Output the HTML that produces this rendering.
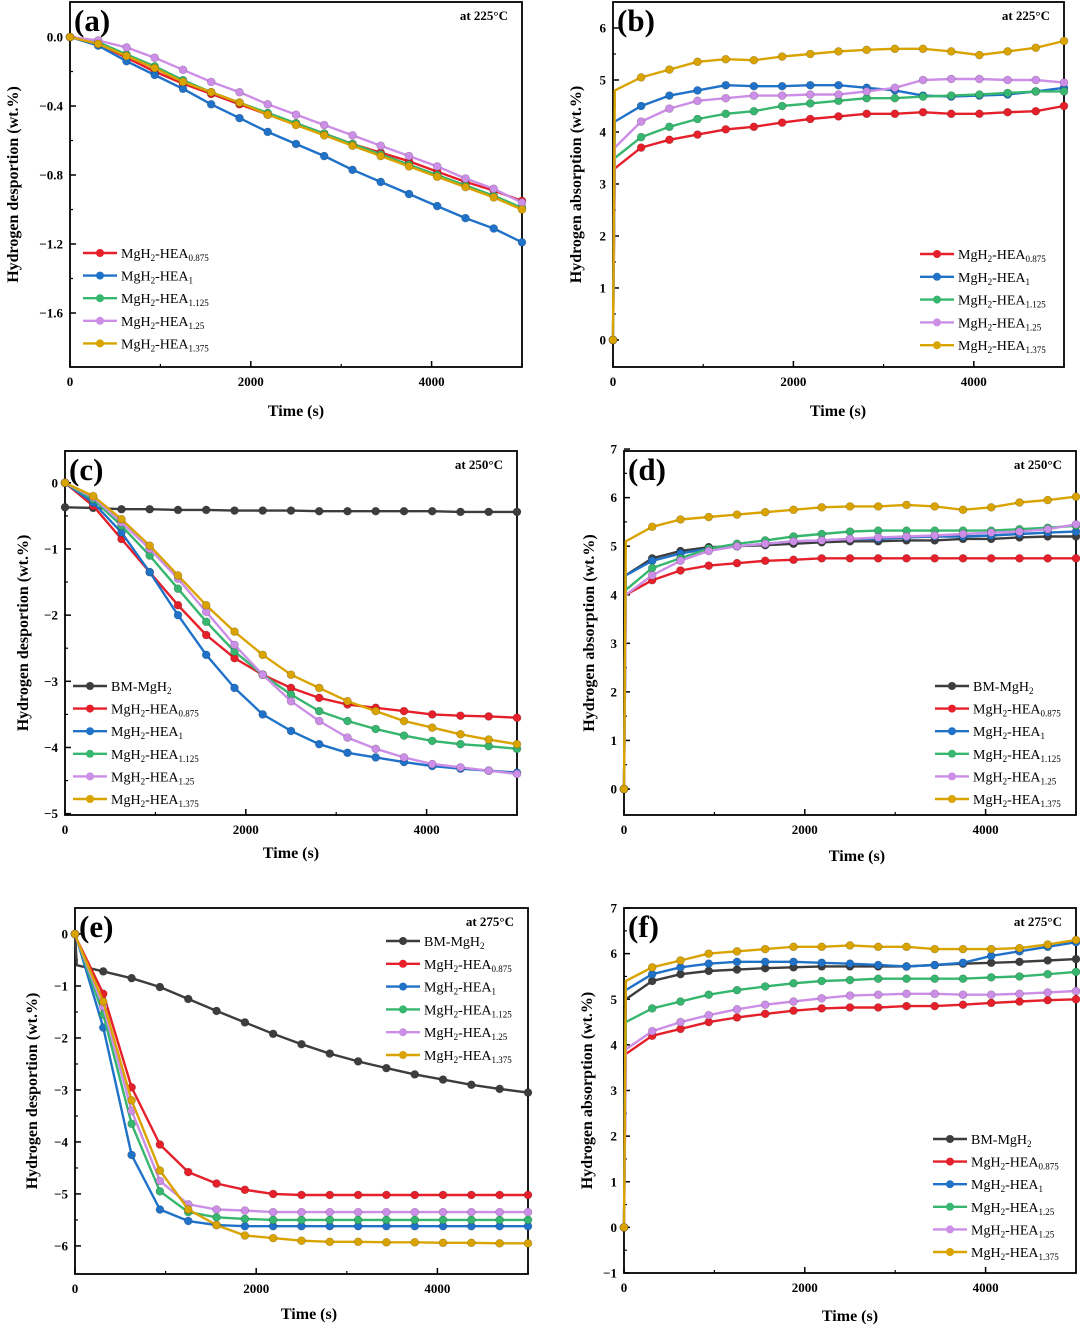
<!DOCTYPE html>
<html><head><meta charset="utf-8">
<style>
html,body{margin:0;padding:0;background:#fff;}
svg{display:block;font-family:"Liberation Serif",serif;}
</style></head>
<body>
<svg id="fig" width="1080" height="1326" viewBox="0 0 1080 1326" xmlns="http://www.w3.org/2000/svg"></svg>
<script>
// ---- data ----
const tA = [0,312,625,937,1250,1562,1875,2187,2500,2812,3125,3437,3750,4062,4375,4687,5000];
const tB = [0,20,312,625,937,1250,1562,1875,2187,2500,2812,3125,3437,3750,4062,4375,4687,5000];

const aRed = [0,-0.04,-0.12,-0.2,-0.27,-0.33,-0.39,-0.45,-0.5,-0.56,-0.62,-0.67,-0.72,-0.78,-0.84,-0.89,-0.95];
const aBlue = [0,-0.05,-0.14,-0.22,-0.3,-0.39,-0.47,-0.55,-0.62,-0.69,-0.77,-0.84,-0.91,-0.98,-1.05,-1.11,-1.19];
const aGreen = [0,-0.03,-0.1,-0.17,-0.25,-0.32,-0.38,-0.44,-0.5,-0.56,-0.62,-0.68,-0.74,-0.8,-0.86,-0.92,-0.99];
const aViolet = [0,-0.02,-0.06,-0.12,-0.19,-0.26,-0.32,-0.39,-0.45,-0.51,-0.57,-0.63,-0.69,-0.75,-0.82,-0.88,-0.96];
const aGold = [0,-0.04,-0.11,-0.18,-0.26,-0.32,-0.38,-0.45,-0.51,-0.57,-0.63,-0.69,-0.75,-0.81,-0.87,-0.93,-1.0];

const bGold = [0,4.8,5.05,5.2,5.35,5.4,5.38,5.45,5.5,5.55,5.58,5.6,5.6,5.55,5.48,5.55,5.62,5.75];
const bBlue = [0,4.2,4.5,4.7,4.8,4.9,4.88,4.88,4.9,4.9,4.85,4.8,4.7,4.68,4.7,4.72,4.78,4.85];
const bViolet = [0,3.7,4.2,4.45,4.6,4.65,4.7,4.7,4.72,4.72,4.78,4.85,5.0,5.02,5.02,5.0,5.0,4.95];
const bGreen = [0,3.5,3.9,4.1,4.25,4.35,4.4,4.5,4.55,4.6,4.65,4.65,4.68,4.7,4.72,4.75,4.78,4.78];
const bRed = [0,3.3,3.7,3.85,3.95,4.05,4.1,4.18,4.25,4.3,4.35,4.35,4.38,4.35,4.35,4.38,4.4,4.5];

const cGray = [-0.37,-0.38,-0.4,-0.4,-0.41,-0.41,-0.42,-0.42,-0.42,-0.43,-0.43,-0.43,-0.43,-0.43,-0.44,-0.44,-0.44];
const cRed = [0,-0.35,-0.85,-1.35,-1.85,-2.3,-2.65,-2.9,-3.1,-3.25,-3.35,-3.4,-3.45,-3.5,-3.52,-3.53,-3.55];
const cBlue = [0,-0.3,-0.75,-1.35,-2.0,-2.6,-3.1,-3.5,-3.75,-3.95,-4.08,-4.15,-4.22,-4.28,-4.32,-4.35,-4.38];
const cGreen = [0,-0.25,-0.65,-1.1,-1.6,-2.1,-2.55,-2.9,-3.2,-3.45,-3.6,-3.72,-3.82,-3.9,-3.95,-3.98,-4.02];
const cViolet = [0,-0.22,-0.6,-1.0,-1.45,-1.95,-2.45,-2.9,-3.3,-3.6,-3.85,-4.02,-4.15,-4.25,-4.3,-4.35,-4.4];
const cGold = [0,-0.2,-0.55,-0.95,-1.4,-1.85,-2.25,-2.6,-2.9,-3.1,-3.3,-3.45,-3.6,-3.7,-3.8,-3.88,-3.95];

const dGold = [0,5.1,5.4,5.55,5.6,5.65,5.7,5.75,5.8,5.82,5.82,5.85,5.82,5.75,5.8,5.9,5.95,6.02];
const dGray = [0,4.4,4.75,4.9,4.98,5.0,5.02,5.05,5.08,5.1,5.1,5.12,5.12,5.15,5.15,5.18,5.2,5.2];
const dBlue = [0,4.4,4.7,4.85,4.95,5.0,5.05,5.1,5.12,5.15,5.15,5.18,5.2,5.2,5.22,5.25,5.28,5.3];
const dGreen = [0,4.1,4.55,4.75,4.95,5.05,5.12,5.2,5.25,5.3,5.32,5.32,5.32,5.32,5.32,5.35,5.38,5.42];
const dViolet = [0,4.0,4.4,4.7,4.9,5.0,5.05,5.1,5.12,5.15,5.18,5.2,5.22,5.25,5.28,5.3,5.35,5.45];
const dRed = [0,4.0,4.3,4.5,4.6,4.65,4.7,4.72,4.75,4.75,4.75,4.75,4.75,4.75,4.75,4.75,4.75,4.75];

const eGray = [0,-0.6,-0.72,-0.85,-1.02,-1.25,-1.48,-1.7,-1.92,-2.12,-2.3,-2.45,-2.58,-2.7,-2.8,-2.9,-2.98,-3.05];
const eRed = [0,-0.1,-1.15,-2.95,-4.05,-4.58,-4.8,-4.92,-5.0,-5.02,-5.02,-5.02,-5.02,-5.02,-5.02,-5.02,-5.02,-5.02];
const eBlue = [0,-0.1,-1.8,-4.25,-5.3,-5.52,-5.6,-5.62,-5.62,-5.62,-5.62,-5.62,-5.62,-5.62,-5.62,-5.62,-5.62,-5.62];
const eGreen = [0,-0.1,-1.55,-3.65,-4.95,-5.35,-5.45,-5.48,-5.5,-5.5,-5.5,-5.5,-5.5,-5.5,-5.5,-5.5,-5.5,-5.5];
const eViolet = [0,-0.1,-1.4,-3.4,-4.75,-5.2,-5.3,-5.32,-5.35,-5.35,-5.35,-5.35,-5.35,-5.35,-5.35,-5.35,-5.35,-5.35];
const eGold = [0,-0.1,-1.3,-3.2,-4.55,-5.3,-5.6,-5.8,-5.85,-5.9,-5.92,-5.92,-5.93,-5.93,-5.94,-5.94,-5.95,-5.95];

const fGold = [0,5.4,5.7,5.85,6.0,6.05,6.1,6.15,6.15,6.18,6.15,6.15,6.1,6.1,6.1,6.12,6.2,6.3];
const fBlue = [0,5.2,5.55,5.7,5.78,5.82,5.82,5.82,5.8,5.78,5.75,5.72,5.75,5.8,5.95,6.05,6.15,6.25];
const fGray = [0,5.0,5.4,5.55,5.62,5.65,5.68,5.7,5.72,5.72,5.72,5.72,5.75,5.78,5.8,5.82,5.85,5.88];
const fGreen = [0,4.5,4.8,4.95,5.1,5.2,5.28,5.35,5.4,5.42,5.45,5.45,5.45,5.45,5.48,5.5,5.55,5.6];
const fViolet = [0,3.9,4.3,4.5,4.65,4.78,4.88,4.95,5.02,5.08,5.1,5.12,5.12,5.1,5.1,5.12,5.15,5.18];
const fRed = [0,3.8,4.2,4.35,4.5,4.6,4.68,4.75,4.8,4.82,4.82,4.85,4.85,4.88,4.92,4.95,4.98,5.0];

const xTicks = [0,2000,4000];
const aTicks = [0,-0.4,-0.8,-1.2,-1.6];
const bTicks = [0,1,2,3,4,5,6];
const cTicks = [0,-1,-2,-3,-4,-5];
const dTicks = [0,1,2,3,4,5,6,7];
const eTicks = [0,-1,-2,-3,-4,-5,-6];
const fTicks = [-1,0,1,2,3,4,5,6,7];

const COL = {gray:"#3d3d3d", red:"#e5202a", blue:"#1f72c8", green:"#36b66e", violet:"#cc8ee6", gold:"#d9a300"};

const svg = document.getElementById('fig');
const NS = "http://www.w3.org/2000/svg";
function mk(tag, attrs, parent){
  const e = document.createElementNS(NS, tag);
  for (const k in attrs) e.setAttribute(k, attrs[k]);
  (parent||svg).appendChild(e);
  return e;
}
function fmt(v, dec){ const s = v.toFixed(dec); return v < 0 ? "\u2212" + s.slice(1) : s; }

function panel(p){
  const g = mk('g', {});
  
  
  const X = t => p.x0 + (t - 0) / 5000 * (p.x1 - p.x0);
  const Y = v => p.y0 + (p.ymax - v) / (p.ymax - p.ymin) * (p.y1 - p.y0);
  const fr = mk('rect', {x:p.x0, y:p.y0, width:p.x1-p.x0, height:p.y1-p.y0, fill:"#fff", stroke:"#000", "stroke-width":1.8}, g);
  
  
  // x ticks
  xTicks.forEach(t => {
    const x = X(t);
    mk('line', {x1:x, x2:x, y1:p.y1, y2:p.y1-6, stroke:"#000", "stroke-width":1.5}, g);
    mk('line', {x1:X(t+1000), x2:X(t+1000), y1:p.y1, y2:p.y1-3, stroke:"#000", "stroke-width":1.2}, g);
    const tx = mk('text', {x:x, y:p.y1+19, "text-anchor":"middle", "font-size":13, "font-weight":"bold"}, g);
    tx.textContent = t;
    
    
  });
  // y ticks
  p.ticks.forEach((v, i) => {
    const y = Y(v);
    mk('line', {x1:p.x0, x2:p.x0+6, y1:y, y2:y, stroke:"#000", "stroke-width":1.5}, g);
    if (i < p.ticks.length - 1) {
      const ym = Y((v + p.ticks[i+1]) / 2);
      mk('line', {x1:p.x0, x2:p.x0+3, y1:ym, y2:ym, stroke:"#000", "stroke-width":1.2}, g);
    }
    const tx = mk('text', {x:p.x0-7, y:y+4.5, "text-anchor":"end", "font-size":13, "font-weight":"bold"}, g);
    tx.textContent = fmt(v, p.dec);
    
    
  });
  // titles
  const xt = mk('text', {x:p.xtx, y:p.xty, "text-anchor":"middle", "font-size":16, "font-weight":"bold"}, g);
  xt.textContent = "Time (s)";
  
  
  const yc = (p.y0 + p.y1) / 2;
  const yt = mk('text', {x:p.ytx, y:yc, "text-anchor":"middle", "font-size":16, "font-weight":"bold", transform:`rotate(-90 ${p.ytx} ${yc})`}, g);
  yt.textContent = p.ytitle;
  
  
  const lt = mk('text', {x:p.x0+4, y:p.y0+29, "font-size":31, "font-weight":"bold"}, g);
  lt.textContent = "(" + p.id + ")";
  
  
  const tt = mk('text', {x:p.x1-14, y:p.y0+18, "text-anchor":"end", "font-size":13, "font-weight":"bold"}, g);
  tt.textContent = p.temp;
  
  
  // series
  p.series.forEach(s => {
    const sg = mk('g', {}, g);
    
    
    const d = s.v.map((v, i) => (i ? "L" : "M") + X(p.t[i]).toFixed(1) + "," + Y(v).toFixed(1)).join("");
    mk('path', {d:d, fill:"none", stroke:COL[s.c], "stroke-width":2.4, "stroke-linejoin":"round"}, sg);
    s.v.forEach((v, i) => {
      if (p.t[i] > 0 && p.t[i] < 100) return;
      const c = mk('circle', {cx:X(p.t[i]), cy:Y(v), r:4, fill:COL[s.c], stroke:"rgba(0,0,0,0.25)", "stroke-width":0.6}, sg);
      
      
    });
  });
  // legend
  p.series.forEach((s, i) => {
    const y = p.ly + i * p.ldy;
    const lg = mk('g', {}, g);
    
    
    mk('line', {x1:p.lx, x2:p.lx+34, y1:y, y2:y, stroke:COL[s.c], "stroke-width":2.4}, lg);
    mk('circle', {cx:p.lx+17, cy:y, r:4, fill:COL[s.c]}, lg);
    const tx = mk('text', {x:p.lx+38, y:y+5, "font-size":14}, lg);
    const parts = s.lab.split("_");
    parts.forEach((pt, j) => {
      const sp = mk('tspan', {}, tx);
      if (j % 2 === 1) { sp.setAttribute('font-size', 9); sp.setAttribute('dy', 3); }
      else if (j > 0) { sp.setAttribute('dy', -3); }
      sp.textContent = pt;
    });
  });
}

const L = {
  gray:"BM-MgH_2_",
  red:"MgH_2_-HEA_0.875_", blue:"MgH_2_-HEA_1_", green:"MgH_2_-HEA_1.125_",
  violet:"MgH_2_-HEA_1.25_", gold:"MgH_2_-HEA_1.375_"
};
const S = (c, v, lab) => ({c:c, v:v, lab:lab || L[c]});

panel({id:"a", x0:70, x1:522, y0:2, y1:367, ymin:-1.913, ymax:0.203, ticks:aTicks, dec:1, t:tA,
  ytitle:"Hydrogen desportion (wt.%)", ytx:18, xtx:296, xty:416, temp:"at 225°C",
  lx:83, ly:253, ldy:22.6,
  series:[S("red",aRed),S("blue",aBlue),S("green",aGreen),S("violet",aViolet),S("gold",aGold)]});
panel({id:"b", x0:613, x1:1064, y0:2, y1:367, ymin:-0.52, ymax:6.5, ticks:bTicks, dec:0, t:tB,
  ytitle:"Hydrogen absorption (wt.%)", ytx:581, xtx:838, xty:416, temp:"at 225°C",
  lx:920, ly:254, ldy:22.8,
  series:[S("red",bRed),S("blue",bBlue),S("green",bGreen),S("violet",bViolet),S("gold",bGold)]});
panel({id:"c", x0:65, x1:517, y0:451, y1:815, ymin:-5.02, ymax:0.48, ticks:cTicks, dec:0, t:tA,
  ytitle:"Hydrogen desportion (wt.%)", ytx:28, xtx:291, xty:858, temp:"at 250°C",
  lx:73, ly:686, ldy:22.6,
  series:[S("gray",cGray),S("red",cRed),S("blue",cBlue),S("green",cGreen),S("violet",cViolet),S("gold",cGold)]});
panel({id:"d", x0:624, x1:1076, y0:451, y1:815, ymin:-0.535, ymax:6.96, ticks:dTicks, dec:0, t:tB,
  ytitle:"Hydrogen absorption (wt.%)", ytx:594, xtx:857, xty:861, temp:"at 250°C",
  lx:935, ly:686, ldy:22.6,
  series:[S("gray",dGray),S("red",dRed),S("blue",dBlue),S("green",dGreen),S("violet",dViolet),S("gold",dGold)]});
panel({id:"e", x0:75, x1:528, y0:908, y1:1274, ymin:-6.54, ymax:0.5, ticks:eTicks, dec:0, t:tB,
  ytitle:"Hydrogen desportion (wt.%)", ytx:37, xtx:309, xty:1319, temp:"at 275°C",
  lx:386, ly:941, ldy:22.8,
  series:[S("gray",eGray),S("red",eRed),S("blue",eBlue),S("green",eGreen),S("violet",eViolet),S("gold",eGold)]});
panel({id:"f", x0:624, x1:1076, y0:908, y1:1273, ymin:-1.0, ymax:7.0, ticks:fTicks, dec:0, t:tB,
  ytitle:"Hydrogen absorption (wt.%)", ytx:592, xtx:850, xty:1321, temp:"at 275°C",
  lx:933, ly:1139, ldy:22.6,
  series:[S("gray",fGray),S("red",fRed),S("blue",fBlue),S("green",fGreen,"MgH_2_-HEA_1.25_"),S("violet",fViolet),S("gold",fGold)]});
</script>
</body></html>
